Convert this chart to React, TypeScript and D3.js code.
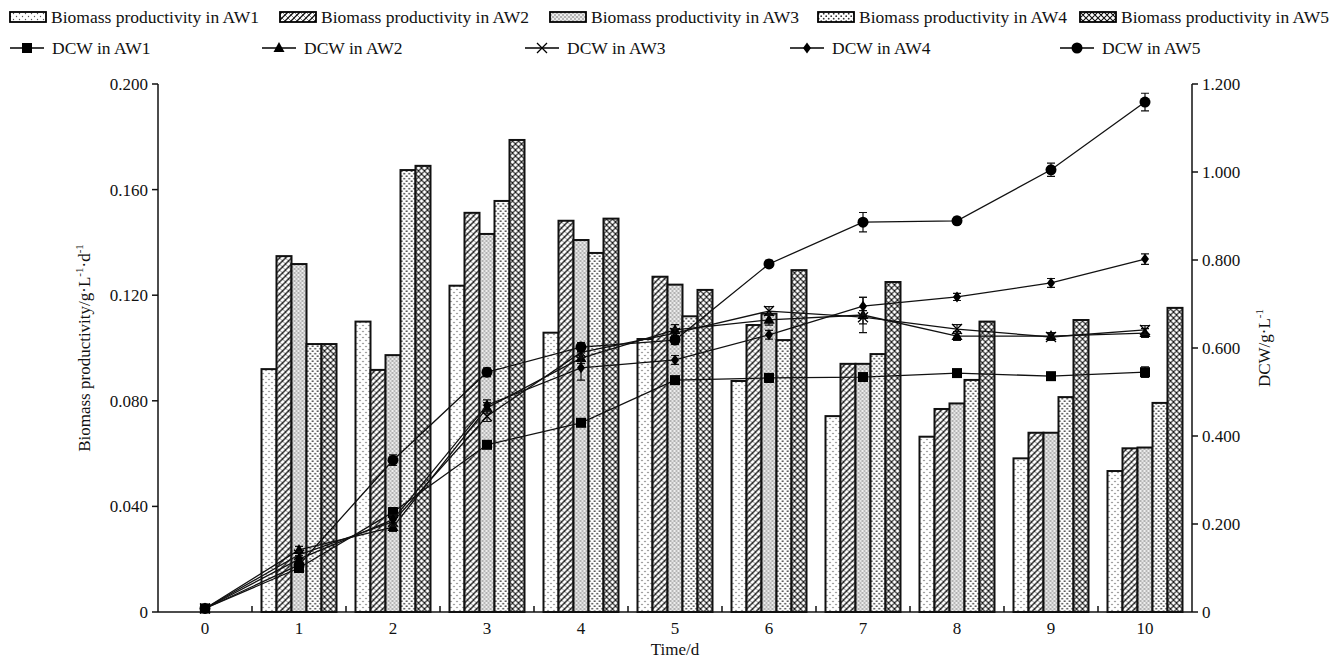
import React from "react";
import * as d3 from "d3";

const days = ["0", "1", "2", "3", "4", "5", "6", "7", "8", "9", "10"];
const seriesNames = ["AW1", "AW2", "AW3", "AW4", "AW5"];

// Biomass productivity (g·L-1·d-1)
const bioAW1 = [0, 0.092, 0.110, 0.1236, 0.1058, 0.1034, 0.0875, 0.0742, 0.0664, 0.0582, 0.0534];
const bioAW2 = [0, 0.1348, 0.0917, 0.1512, 0.1482, 0.127, 0.1087, 0.094, 0.0769, 0.0679, 0.062];
const bioAW3 = [0, 0.1318, 0.0973, 0.1432, 0.1409, 0.124, 0.113, 0.094, 0.079, 0.0679, 0.0623];
const bioAW4 = [0, 0.1015, 0.1674, 0.1557, 0.136, 0.112, 0.103, 0.0977, 0.0879, 0.0814, 0.0792];
const bioAW5 = [0, 0.1015, 0.169, 0.1788, 0.149, 0.122, 0.1295, 0.125, 0.110, 0.1106, 0.1152];

// DCW (g·L-1)
const dcwAW1 = [0.008, 0.100, 0.227, 0.380, 0.430, 0.527, 0.532, 0.534, 0.543, 0.536, 0.545];
const dcwAW2 = [0.008, 0.141, 0.193, 0.464, 0.577, 0.641, 0.664, 0.675, 0.627, 0.627, 0.634];
const dcwAW3 = [0.008, 0.130, 0.205, 0.445, 0.590, 0.634, 0.684, 0.670, 0.643, 0.625, 0.641];
const dcwAW4 = [0.008, 0.120, 0.210, 0.470, 0.555, 0.573, 0.630, 0.695, 0.716, 0.748, 0.802];
const dcwAW5 = [0.008, 0.107, 0.345, 0.545, 0.602, 0.618, 0.791, 0.886, 0.889, 1.005, 1.159];

const errAW1 = [0, 0.008, 0.01, 0.008, 0.008, 0.008, 0.01, 0.008, 0.008, 0.008, 0.012];
const errAW2 = [0, 0.008, 0.01, 0.012, 0.012, 0.012, 0.012, 0.04, 0.01, 0.008, 0.01];
const errAW3 = [0, 0.008, 0.01, 0.012, 0.012, 0.01, 0.01, 0.015, 0.01, 0.008, 0.01];
const errAW4 = [0, 0.008, 0.01, 0.012, 0.028, 0.01, 0.01, 0.02, 0.008, 0.01, 0.012];
const errAW5 = [0, 0.008, 0.012, 0.01, 0.01, 0.01, 0.008, 0.022, 0.008, 0.015, 0.02];

const leftTicks = [0, 0.04, 0.08, 0.12, 0.16, 0.2];
const rightTicks = [0, 0.2, 0.4, 0.6, 0.8, 1.0, 1.2];

const bioSeries = [bioAW1, bioAW2, bioAW3, bioAW4, bioAW5];
const dcwSeries = [dcwAW1, dcwAW2, dcwAW3, dcwAW4, dcwAW5];
const errSeries = [errAW1, errAW2, errAW3, errAW4, errAW5];
const markerTypes = ["square", "triangle", "x", "diamond", "circle"];

const W = 1343;
const H = 662;
const left = 158;
const right = 1192;
const top = 84;
const bottom = 612;
const FONT = "'Liberation Serif', 'Times New Roman', serif";

function Marker({ type, x, y }: { type: string; x: number; y: number }) {
  if (type === "square") return <rect x={x - 5} y={y - 5} width={10} height={10} fill="#000" />;
  if (type === "triangle")
    return <path d={`M${x},${y - 6}L${x + 5.5},${y + 4}L${x - 5.5},${y + 4}Z`} fill="#000" />;
  if (type === "x")
    return (
      <path
        d={`M${x - 5},${y - 5}L${x + 5},${y + 5}M${x - 5},${y + 5}L${x + 5},${y - 5}`}
        stroke="#000"
        strokeWidth={1.3}
      />
    );
  if (type === "diamond")
    return <path d={`M${x},${y - 5.5}L${x + 4},${y}L${x},${y + 5.5}L${x - 4},${y}Z`} fill="#000" />;
  return <circle cx={x} cy={y} r={5.5} fill="#000" />;
}

export default function App() {
  const x0 = d3.scaleBand<string>().domain(days).range([left, right]).padding(0);
  const bw = x0.bandwidth();
  const yL = d3.scaleLinear().domain([0, 0.2]).range([bottom, top]);
  const yR = d3.scaleLinear().domain([0, 1.2]).range([bottom, top]);
  const groupW = 75;
  const x1 = d3.scaleBand<string>().domain(seriesNames).range([0, groupW]).padding(0);
  const cx = (d: string) => (x0(d) as number) + bw / 2;
  const line = d3
    .line<number>()
    .x((_, i) => cx(days[i]))
    .y((v) => yR(v));

  const legendBioX = [10, 280, 550, 818, 1080];
  const legendDcwX = [10, 262, 525, 790, 1060];

  return (
    <svg
      width={W}
      height={H}
      style={{ position: "absolute", left: 0, top: 0, background: "#fff" }}
      fontFamily={FONT}
    >
      <defs>
        <pattern id="p0" width="6" height="6" patternUnits="userSpaceOnUse">
          <rect width="6" height="6" fill="#fff" />
          <circle cx="1.5" cy="1.5" r="0.7" fill="#555" />
          <circle cx="4.5" cy="4.5" r="0.7" fill="#555" />
        </pattern>
        <pattern id="p1" width="6" height="6" patternUnits="userSpaceOnUse">
          <rect width="6" height="6" fill="#fff" />
          <path d="M-1,7L7,-1M-4,4L4,-4M2,10L10,2" stroke="#111" strokeWidth="1.3" />
          <path d="M0,0L6,6" stroke="#111" strokeWidth="0.5" />
        </pattern>
        <pattern id="p2" width="4" height="4" patternUnits="userSpaceOnUse">
          <rect width="4" height="4" fill="#eeeeee" />
          <circle cx="1" cy="1" r="0.75" fill="#555" />
          <circle cx="3" cy="3" r="0.75" fill="#666" />
          <circle cx="3" cy="1" r="0.45" fill="#999" />
        </pattern>
        <pattern id="p3" width="5" height="5" patternUnits="userSpaceOnUse">
          <rect width="5" height="5" fill="#fff" />
          <circle cx="1.2" cy="1.2" r="0.9" fill="#333" />
          <circle cx="3.7" cy="3.7" r="0.9" fill="#333" />
        </pattern>
        <pattern id="p4" width="6" height="6" patternUnits="userSpaceOnUse">
          <rect width="6" height="6" fill="#fff" />
          <path d="M-1,7L7,-1M-1,-1L7,7M-4,4L4,-4M2,10L10,2M-4,2L2,8M4,-2L10,4" stroke="#111" strokeWidth="1.1" />
        </pattern>
      </defs>

      {/* Legend row 1 */}
      {seriesNames.map((s, i) => (
        <g key={s}>
          <rect x={legendBioX[i]} y={12} width={36} height={10} fill={`url(#p${i})`} stroke="#000" strokeWidth={1.8} />
          <text x={legendBioX[i] + 41} y={23} fontSize={17.5} fill="#111">
            {`Biomass productivity in ${s}`}
          </text>
        </g>
      ))}
      {/* Legend row 2 */}
      {seriesNames.map((s, i) => (
        <g key={"d" + s}>
          <line x1={legendDcwX[i]} x2={legendDcwX[i] + 34} y1={48} y2={48} stroke="#000" strokeWidth={1.3} />
          <Marker type={markerTypes[i]} x={legendDcwX[i] + 17} y={48} />
          <text x={legendDcwX[i] + 42} y={54} fontSize={17.5} fill="#111">
            {`DCW in ${s}`}
          </text>
        </g>
      ))}

      {/* Bars */}
      {days.map((d, di) => (
        <g key={"g" + d} transform={`translate(${cx(d) - groupW / 2},0)`}>
          {seriesNames.map((s, si) => {
            const v = bioSeries[si][di];
            if (!v) return null;
            return (
              <rect
                key={s}
                x={x1(s)}
                y={yL(v)}
                width={x1.bandwidth()}
                height={bottom - yL(v)}
                fill={`url(#p${si})`}
                stroke="#111"
                strokeWidth={2}
              />
            );
          })}
        </g>
      ))}

      {/* Axes */}
      <line x1={left} x2={left} y1={top} y2={bottom} stroke="#111" strokeWidth={1.5} />
      <line x1={right} x2={right} y1={top} y2={bottom} stroke="#111" strokeWidth={1.5} />
      <line x1={left} x2={right} y1={bottom} y2={bottom} stroke="#111" strokeWidth={1.5} />
      {leftTicks.map((t) => (
        <g key={"l" + t}>
          <line x1={left - 6} x2={left} y1={yL(t)} y2={yL(t)} stroke="#111" strokeWidth={1.5} />
          <text x={left - 10} y={yL(t) + 6} fontSize={17} textAnchor="end" fill="#111">
            {t === 0 ? "0" : d3.format(".3f")(t)}
          </text>
        </g>
      ))}
      {rightTicks.map((t) => (
        <g key={"r" + t}>
          <line x1={right} x2={right + 6} y1={yR(t)} y2={yR(t)} stroke="#111" strokeWidth={1.5} />
          <text x={right + 10} y={yR(t) + 6} fontSize={17} textAnchor="start" fill="#111">
            {t === 0 ? "0" : d3.format(".3f")(t)}
          </text>
        </g>
      ))}
      {days.map((d, i) =>
        i === 0 ? null : (
          <line key={"xt" + d} x1={x0(d)} x2={x0(d)} y1={bottom} y2={bottom - 6} stroke="#111" strokeWidth={1.5} />
        )
      )}
      {days.map((d) => (
        <text key={"xl" + d} x={cx(d)} y={bottom + 22} fontSize={17} textAnchor="middle" fill="#111">
          {d}
        </text>
      ))}

      {/* Axis titles */}
      <text x={cx(days[5])} y={655} fontSize={17} textAnchor="middle" fill="#111">
        Time/d
      </text>
      <text transform={`translate(90,${(top + bottom) / 2}) rotate(-90)`} fontSize={17} textAnchor="middle" fill="#111">
        Biomass productivity/g·L<tspan dy={-7} fontSize={11}>-1</tspan>
        <tspan dy={7}>·d</tspan>
        <tspan dy={-7} fontSize={11}>-1</tspan>
      </text>
      <text transform={`translate(1270,${(top + bottom) / 2}) rotate(-90)`} fontSize={17} textAnchor="middle" fill="#111">
        DCW/g·L<tspan dy={-7} fontSize={11}>-1</tspan>
      </text>

      {/* DCW lines */}
      {dcwSeries.map((vals, si) => (
        <g key={"line" + si}>
          <path d={line(vals) as string} fill="none" stroke="#111" strokeWidth={1.3} />
          {vals.map((v, di) => {
            const e = errSeries[si][di];
            const x = cx(days[di]);
            return (
              <g key={di}>
                {e > 0 && (
                  <path
                    d={`M${x},${yR(v + e)}V${yR(v - e)}M${x - 4},${yR(v + e)}H${x + 4}M${x - 4},${yR(v - e)}H${x + 4}`}
                    stroke="#111"
                    strokeWidth={1.2}
                    fill="none"
                  />
                )}
                <Marker type={markerTypes[si]} x={x} y={yR(v)} />
              </g>
            );
          })}
        </g>
      ))}
    </svg>
  );
}
